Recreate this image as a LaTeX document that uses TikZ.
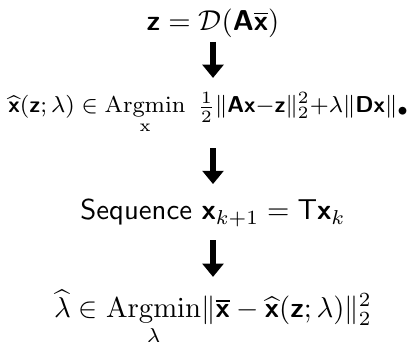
\documentclass[tikz,border=0pt]{standalone}
\usepackage{amsmath,amssymb}
\usetikzlibrary{arrows.meta}
\newcommand{\vb}[1]{\text{\sffamily\bfseries #1}}
\DeclareMathOperator*{\Argmin}{Argmin}
\begin{document}
\begin{tikzpicture}[x=0.348pt,y=-0.348pt,
  lineA/.style={inner sep=0pt, anchor=base},
  bigarrow/.style={line width=2.2pt, -{Triangle[width=7.2pt,length=4.6pt]}}]
\useasboundingbox (0,0) rectangle (418,342);
\coordinate (ax) at (213,0);
\node[lineA] (l1) at (213,31) {$\vb{z} = \mathcal{D}(\vb{A}\overline{\vb{x}})$};
\node[lineA,font=\footnotesize] (l2) at (209,113) {$\displaystyle\widehat{\vb{x}}(\vb{z};\lambda) \in \Argmin_{\mathrm{x}}\ \tfrac{1}{2}\|\vb{A}\vb{x}{-}\vb{z}\|_2^2{+}\lambda\|\vb{D}\vb{x}\|_{\bullet}$};
\node[lineA] (l3) at (213,220) {\textsf{Sequence} $\vb{x}_{k+1} = \mathsf{T}\vb{x}_k$};
\node[lineA,font=\fontsize{9.9}{12}\selectfont] (l4) at (213,318) {$\displaystyle\widehat{\lambda} \in \Argmin_{\lambda}\!\|\overline{\vb{x}} - \widehat{\vb{x}}(\vb{z};\lambda)\|_2^2$};
\draw[bigarrow, shorten <=3.8pt, shorten >=12.2pt] (l1.base -| ax) -- (l2.base -| ax);
\draw[bigarrow, shorten <=12.2pt, shorten >=12.5pt] (l2.base -| ax) -- (l3.base -| ax);
\draw[bigarrow, shorten <=7pt, shorten >=14.3pt] (l3.base -| ax) -- (l4.base -| ax);
\end{tikzpicture}
\end{document}
